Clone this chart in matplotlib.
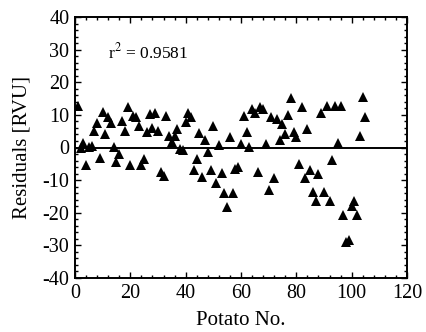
import matplotlib
matplotlib.use("Agg")
import matplotlib.pyplot as plt
from matplotlib.ticker import MultipleLocator

potato = list(range(1, 106))
residuals = [
    12.8, -0.3, 1.5, -5.3, 0.3, 0.6, 5.1, 7.5, -3.1, 10.8,
    4.2, 9.3, 7.5, 0.3, -4.3, -1.9, 8.0, 5.2, 12.4, -5.3,
    9.7, 9.3, 6.6, -5.3, -3.5, 4.7, 10.3, 6.1, 10.7, 5.1,
    -7.6, -8.6, 9.7, 3.6, 1.8, 3.4, 5.7, -0.4, -0.7, 7.8,
    10.7, 9.3, -7.0, -3.6, 4.4, -8.9, 2.3, -1.5, -7.0, 6.7,
    -10.9, 0.8, -7.7, -14.0, -18.3, 3.2, -13.8, -6.5, -6.1, 1.1,
    9.8, 4.9, 0.1, 11.8, 10.5, -7.6, 12.3, 11.8, 1.1, -13.0,
    9.3, -9.4, 8.7, 2.3, 7.2, 4.1, 10.0, 15.3, 4.7, 3.2,
    -5.0, 12.4, -9.4, 5.7, -6.8, -13.7, -16.3, -8.1, 10.5, -13.5,
    12.8, -16.5, -3.8, 12.8, 1.5, 12.8, -20.6, -29.0, -28.5, -17.9,
    -16.5, -20.6, 3.6, 15.4, 9.3,
]
annotation = "r$^2$ = 0.9581"

plt.rcParams['font.family'] = ['Liberation Serif', 'DejaVu Serif']
plt.rcParams['mathtext.fontset'] = 'stix'
plt.rcParams['axes.unicode_minus'] = False

fig = plt.figure(figsize=(4.27, 3.32), dpi=100)
ax = fig.add_axes([75/427, 1 - 278/332, (407-75)/427, (278-17)/332])

ax.axhline(0, color='black', lw=1.4, zorder=1)
ax.plot(potato, residuals, linestyle='none', marker='^', ms=6.8,
        color='black', markeredgewidth=0, zorder=2)

ax.set_xlim(0, 120)
ax.set_ylim(-40, 40)
ax.xaxis.set_major_locator(MultipleLocator(20))
ax.xaxis.set_minor_locator(MultipleLocator(4))
ax.yaxis.set_major_locator(MultipleLocator(10))
ax.yaxis.set_minor_locator(MultipleLocator(2))
ax.tick_params(which='both', direction='in', top=True, right=True,
               labelsize=14.5, width=1, color='black')
ax.tick_params(which='major', length=4.5)
ax.tick_params(which='minor', length=2.5)
ax.tick_params(axis='x', which='major', pad=4)
ax.tick_params(axis='y', which='major', pad=4)
for s in ax.spines.values():
    s.set_linewidth(1.4)

ax.set_xlabel("Potato No.", fontsize=15, labelpad=6)
ax.set_ylabel("Residuals [RVU]", fontsize=15, labelpad=8)
ax.text(12, 29, annotation, fontsize=12.5, va='center', ha='left')

fig.savefig("out.png", dpi=100)
